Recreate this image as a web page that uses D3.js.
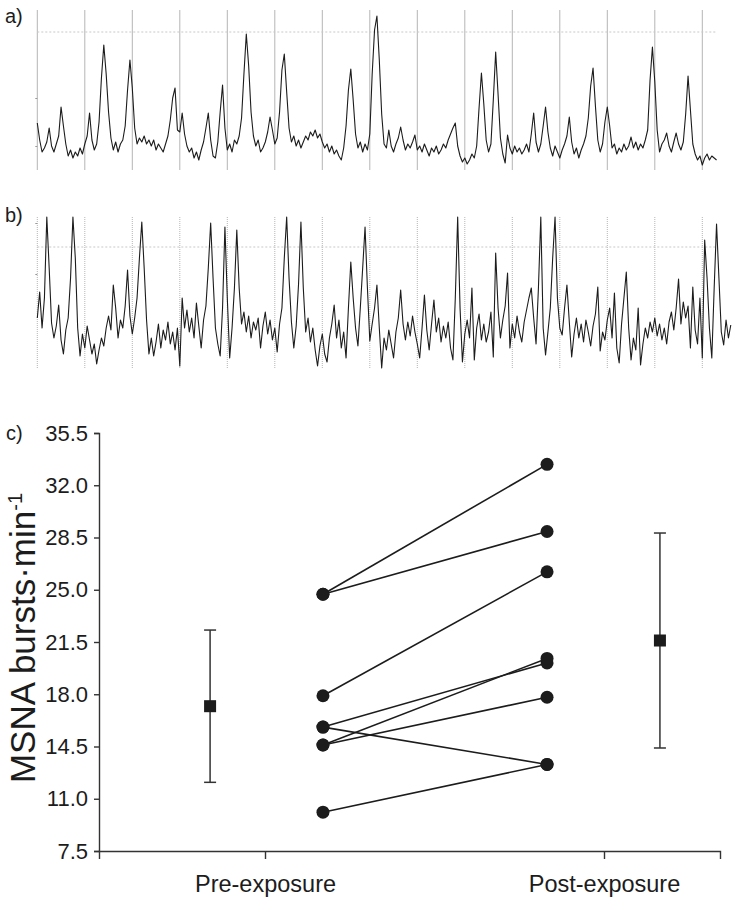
<!DOCTYPE html>
<html><head><meta charset="utf-8">
<script src="https://cdn.jsdelivr.net/npm/d3@7"></script>
<style>
body{margin:0;background:#fff;}
svg{display:block;font-family:"Liberation Sans",Arial,Helvetica,sans-serif;}
</style></head><body>
<svg id="chart" width="732" height="900"></svg>
<script>
// ---- Panel a) MSNA neurogram, pre-exposure (a.u., sampled every 0.05 s) ----
const traceA = [47,30,18,22,28,42,24,18,26,34,63,44,26,14,20,12,18,14,22,16,
26,34,57,30,20,26,48,92,125,96,58,32,20,28,18,26,30,44,80,110,
82,42,26,32,28,34,26,30,24,30,20,26,22,18,26,34,50,72,82,40,
38,57,36,24,18,22,12,18,10,20,28,42,57,30,14,12,28,58,85,42,
20,26,18,30,26,34,52,96,136,104,58,34,24,30,18,22,28,38,53,40,
26,32,58,100,116,78,42,28,34,24,30,22,28,34,30,38,34,40,32,36,
28,22,26,18,24,16,20,14,10,22,44,80,101,70,36,22,28,18,26,20,
36,96,140,154,110,56,26,22,40,24,18,26,32,43,30,20,26,22,28,35,
20,24,18,26,20,14,22,18,24,16,20,26,22,30,36,42,47,24,14,8,
12,6,10,16,12,24,62,97,66,30,18,26,70,118,76,32,16,7,35,22,
16,24,18,22,16,20,26,18,36,57,28,18,26,44,63,38,22,14,24,18,
12,20,26,34,53,28,16,22,12,20,26,34,52,84,102,64,30,18,26,48,
63,44,22,26,16,22,18,26,20,24,33,22,28,20,26,22,30,40,90,123,
88,40,18,26,30,37,24,18,28,37,26,20,28,56,94,60,26,16,10,14,
5,12,16,10,14,12,10];
// ---- Panel b) MSNA neurogram, post-exposure (a.u., sampled every 0.05 s) ----
const traceB = [50,76,40,70,151,100,45,30,42,63,28,14,38,50,90,151,110,40,12,34,
20,42,28,14,24,4,18,30,22,40,52,38,83,60,30,48,40,62,98,52,
34,50,70,110,146,100,48,14,30,12,26,44,20,38,28,46,24,36,18,40,
2,70,40,58,36,50,30,65,42,20,48,62,100,145,90,40,24,12,60,141,
70,10,40,80,138,80,44,56,36,52,30,46,38,50,20,42,56,34,48,28,
40,16,44,60,110,151,90,46,20,42,84,146,80,36,50,26,40,18,2,22,
34,14,6,30,44,63,30,48,20,36,10,60,106,70,40,22,60,100,141,80,
27,44,60,83,40,0,30,18,38,24,10,36,50,78,44,28,46,32,52,36,
24,10,40,73,38,18,44,68,36,50,26,42,30,46,20,8,70,151,60,6,
34,48,30,80,8,40,54,28,44,26,36,56,11,115,60,30,48,62,95,20,
44,30,52,36,26,46,58,70,80,50,24,80,151,40,13,36,60,110,151,70,
40,33,60,83,46,11,34,50,30,44,26,48,36,22,42,54,81,17,36,28,
48,60,30,75,20,5,44,70,96,40,8,30,18,60,3,24,40,30,46,36,
50,32,44,28,40,24,46,56,38,60,89,44,66,50,62,20,81,38,24,70,
10,128,90,40,10,80,144,90,36,23,48,30,43];
const sampleInterval = 0.05;           // seconds per sample
const markerSeconds = d3.range(0, 15); // 1-s time markers
const refLevelA = 138, refLevelB = 121; // dotted reference levels (a.u.)
const sideTicksA = [24, 72], sideTicksB = [94, 145];

// ---- Panel c) MSNA burst frequency ----
const categories = ["Pre-exposure", "Post-exposure"];
const preValues  = [24.7, 24.7, 17.9, 15.8, 15.8, 14.6, 14.6, 10.1];
const postValues = [33.4, 28.9, 26.2, 20.1, 13.3, 20.4, 17.8, 13.3];
const groupMeans = [17.2, 21.6];
const groupSD    = [5.1, 7.2];
const yTicks = [7.5, 11.0, 14.5, 18.0, 21.5, 25.0, 28.5, 32.0, 35.5];

const svg = d3.select("#chart");
const ink = "#1c1c1c";

// ---------- traces ----------
const xT = d3.scaleLinear().domain([0, 14]).range([37.3, 702.3]);

function tracePanel(data, yRange, maxV, refLevel, sideTicks, markerDash, label, labelY) {
  const y = d3.scaleLinear().domain([0, maxV]).range(yRange);
  const g = svg.append("g");
  g.selectAll("line.mk").data(markerSeconds).join("line")
    .attr("x1", d => xT(d)).attr("x2", d => xT(d))
    .attr("y1", yRange[0]).attr("y2", yRange[1])
    .attr("stroke", "#b5b5b5").attr("stroke-width", 1)
    .attr("stroke-dasharray", markerDash);
  const tEnd = (data.length - 1) * sampleInterval;
  g.append("line")
    .attr("x1", xT(0)).attr("x2", xT(Math.min(tEnd, 14.3)))
    .attr("y1", y(refLevel)).attr("y2", y(refLevel))
    .attr("stroke", "#c8c8c8").attr("stroke-width", 1).attr("stroke-dasharray", "2,2");
  const ax = g.append("g").attr("transform", `translate(${xT(0)},0)`)
    .call(d3.axisLeft(y).tickValues(sideTicks).tickSize(2).tickFormat(""));
  ax.select(".domain").remove();
  ax.selectAll("line").attr("stroke", "#999");
  const line = d3.line().x((d, i) => xT(i * sampleInterval)).y(d => y(d));
  g.append("path").datum(data).attr("d", line)
    .attr("fill", "none").attr("stroke", ink).attr("stroke-width", 1.1).attr("stroke-linejoin", "round");
  svg.append("text").attr("x", 5).attr("y", labelY).attr("font-size", 20).attr("fill", ink).text(label);
}
tracePanel(traceA, [170, 10], 160, refLevelA, sideTicksA, null, "a)", 23);
tracePanel(traceB, [368, 216], 152, refLevelB, sideTicksB, "1,1", "b)", 222);

// ---------- panel c ----------
const x = d3.scaleLinear().domain([-0.4897, 1.3422]).range([99, 720]);
const y = d3.scaleLinear().domain([7.5, 35.5]).range([851, 433]);
const preX = 0.171, postX = 0.832, meanX = [-0.162, 1.165];

const gy = svg.append("g").attr("transform", "translate(99,0)")
  .call(d3.axisLeft(y).tickValues(yTicks).tickSize(5).tickPadding(6).tickFormat(d3.format(".1f")));
const gx = svg.append("g").attr("transform", "translate(0,851)")
  .call(d3.axisBottom(x).tickValues([0, 1]).tickSize(8).tickPadding(16).tickFormat(d => categories[d]));
[gx, gy].forEach(g => {
  g.select(".domain").attr("stroke", "#333").attr("stroke-width", 1.4);
  g.selectAll(".tick line").attr("stroke", "#333").attr("stroke-width", 1.4);
  g.selectAll(".tick text").attr("fill", ink).attr("font-family", "Liberation Sans, Arial, sans-serif");
});
gy.selectAll(".tick text").attr("font-size", 22);
gx.selectAll(".tick text").attr("font-size", 23.5);

svg.append("text").attr("x", 6).attr("y", 440).attr("font-size", 20).attr("fill", ink).text("c)");

const yl = svg.append("text").attr("transform", "translate(35,638) rotate(-90)")
  .attr("text-anchor", "middle").attr("font-size", 35).attr("fill", ink);
yl.append("tspan").text("MSNA bursts\u00B7min");
yl.append("tspan").attr("font-size", 20).attr("dy", -13).text("-1");

// paired lines
const pairs = preValues.map((v, i) => [v, postValues[i]]);
svg.append("g").selectAll("line").data(pairs).join("line")
  .attr("x1", x(preX)).attr("x2", x(postX))
  .attr("y1", d => y(d[0])).attr("y2", d => y(d[1]))
  .attr("stroke", ink).attr("stroke-width", 1.6);
svg.append("g").selectAll("circle").data(preValues).join("circle")
  .attr("cx", x(preX)).attr("cy", d => y(d)).attr("r", 6.5).attr("fill", ink);
svg.append("g").selectAll("circle").data(postValues).join("circle")
  .attr("cx", x(postX)).attr("cy", d => y(d)).attr("r", 6.5).attr("fill", ink);

// mean ± SD
const eg = svg.append("g");
groupMeans.forEach((m, i) => {
  const cx = x(meanX[i]), sd = groupSD[i];
  eg.append("line").attr("x1", cx).attr("x2", cx).attr("y1", y(m + sd)).attr("y2", y(m - sd))
    .attr("stroke", "#333").attr("stroke-width", 1.5);
  [m + sd, m - sd].forEach(v => eg.append("line").attr("x1", cx - 6).attr("x2", cx + 6)
    .attr("y1", y(v)).attr("y2", y(v)).attr("stroke", "#333").attr("stroke-width", 1.5));
  eg.append("rect").attr("x", cx - 6).attr("y", y(m) - 6).attr("width", 12).attr("height", 12).attr("fill", ink);
});
</script></body></html>
